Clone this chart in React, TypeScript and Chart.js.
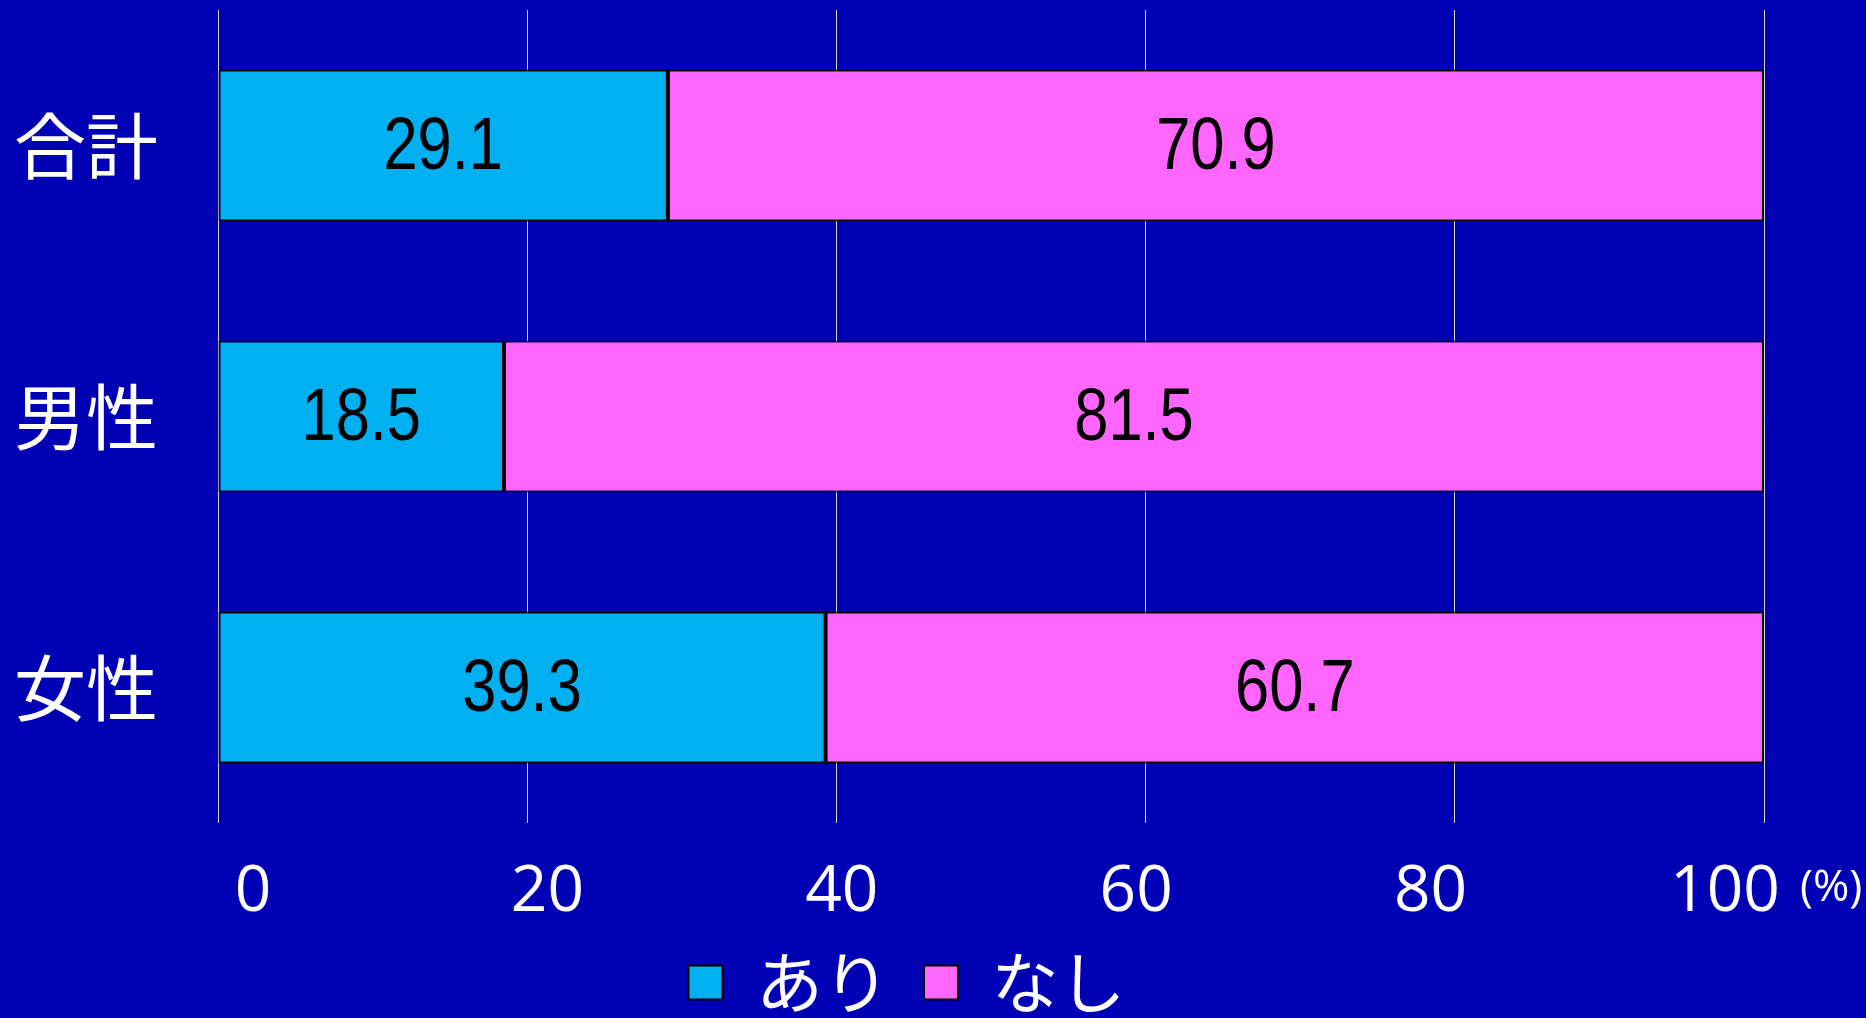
import React, { useEffect, useRef } from "react";
import { Chart, registerables } from "chart.js";

Chart.register(...registerables);

const categories = ["合計", "男性", "女性"];
const ariValues = [29.1, 18.5, 39.3];
const nashiValues = [70.9, 81.5, 60.7];
const seriesNames = ["あり", "なし"];
const xMin = 0;
const xMax = 100;
const xStep = 20;
const unitLabel = "(%)";

const BG = "#0000B4";
const CYAN = "#00B0F0";
const MAGENTA = "#FF66FF";

const dataLabelPlugin = {
  id: "dataLabels",
  afterDatasetsDraw(chart: any) {
    const ctx = chart.ctx;
    chart.data.datasets.forEach((ds: any, i: number) => {
      const meta = chart.getDatasetMeta(i);
      meta.data.forEach((el: any, j: number) => {
        const p = el.getCenterPoint();
        ctx.save();
        ctx.translate(p.x, p.y + 3);
        ctx.scale(0.83, 1);
        ctx.font = '74px "Liberation Sans", Arial, sans-serif';
        ctx.fillStyle = "#000000";
        ctx.textAlign = "center";
        ctx.textBaseline = "middle";
        ctx.fillText(Number(ds.data[j]).toFixed(1), 0, 0);
        ctx.restore();
      });
    });
  },
};

const unitPlugin = {
  id: "unitLabel",
  afterDraw(chart: any) {
    const ctx = chart.ctx;
    const xs = chart.scales.x2;
    ctx.save();
    ctx.font = '44px "Open Sans", sans-serif';
    ctx.fillStyle = "#FFFFFF";
    ctx.textAlign = "left";
    ctx.textBaseline = "middle";
    ctx.fillText(unitLabel, xs.getPixelForValue(xMax) + 75, 888);
    ctx.restore();
  },
};

const bgPlugin = {
  id: "bg",
  beforeDraw(chart: any) {
    const ctx = chart.ctx;
    ctx.save();
    ctx.fillStyle = BG;
    ctx.fillRect(0, 0, chart.width, chart.height);
    ctx.restore();
  },
};

export default function App() {
  const ref = useRef<HTMLCanvasElement | null>(null);
  useEffect(() => {
    if (!ref.current) return;
    const chart = new Chart(ref.current, {
      type: "bar",
      data: {
        labels: categories,
        datasets: [
          {
            label: seriesNames[0],
            data: ariValues,
            backgroundColor: CYAN,
            borderColor: "#000000",
            borderWidth: 2,
            borderSkipped: false,
            barPercentage: 0.56,
            categoryPercentage: 1,
          },
          {
            label: seriesNames[1],
            data: nashiValues,
            backgroundColor: MAGENTA,
            borderColor: "#000000",
            borderWidth: 2,
            borderSkipped: false,
            barPercentage: 0.56,
            categoryPercentage: 1,
          },
        ],
      },
      options: {
        indexAxis: "y",
        responsive: false,
        maintainAspectRatio: false,
        animation: false,
        layout: { padding: { top: 10, left: 14, right: 66, bottom: -8 } },
        scales: {
          x: {
            stacked: true,
            min: xMin,
            max: xMax,
            ticks: { display: false, stepSize: xStep },
            grid: {
              color: "#D9D9D9",
              lineWidth: 1,
              drawTicks: false,
            },
            border: { display: false },
            afterFit(scale: any) {
              scale.height = 0;
              scale.paddingLeft = 0;
              scale.paddingRight = 0;
            },
          },
          x2: {
            type: "linear",
            position: "bottom",
            min: -2.38,
            max: 102.65,
            afterBuildTicks(scale: any) {
              const t = [];
              for (let v = xMin; v <= xMax; v += xStep) t.push({ value: v });
              scale.ticks = t;
            },
            ticks: {
              color: "#FFFFFF",
              font: { family: '"Open Sans", sans-serif', size: 64 },
              padding: 31,
              maxRotation: 0,
              autoSkip: false,
            },
            grid: { display: false, drawTicks: false },
            border: { display: false },
            afterFit(scale: any) {
              scale.height = 92;
              scale.paddingLeft = 0;
              scale.paddingRight = 0;
            },
          },
          y: {
            stacked: true,
            ticks: {
              color: "#FFFFFF",
              font: { family: '"Noto Sans CJK JP", sans-serif', size: 72 },
              padding: 0,
              crossAlign: "far",
            },
            grid: { display: false, drawTicks: false },
            border: { display: false },
            afterFit(scale: any) {
              scale.width = 204;
              scale.paddingTop = 0;
              scale.paddingBottom = 0;
            },
          },
          yRight: {
            type: "category",
            position: "right",
            ticks: { display: false },
            grid: { display: false, drawTicks: false },
            border: { display: false },
            afterFit(scale: any) {
              scale.width = 36;
              scale.paddingTop = 0;
              scale.paddingBottom = 0;
            },
          },
        },
        plugins: {
          legend: {
            position: "bottom",
            labels: {
              color: "#FFFFFF",
              font: { family: '"Noto Sans CJK JP", sans-serif', size: 67 },
              boxWidth: 34,
              boxHeight: 34,
              padding: 34,
            },
          },
          tooltip: { enabled: false },
        },
      },
      plugins: [bgPlugin, dataLabelPlugin, unitPlugin],
    });
    return () => chart.destroy();
  }, []);
  return (
    <div style={{ position: "fixed", left: 0, top: 0, width: 1866, height: 1018, background: BG }}>
      <canvas ref={ref} width={1866} height={1018} />
    </div>
  );
}
